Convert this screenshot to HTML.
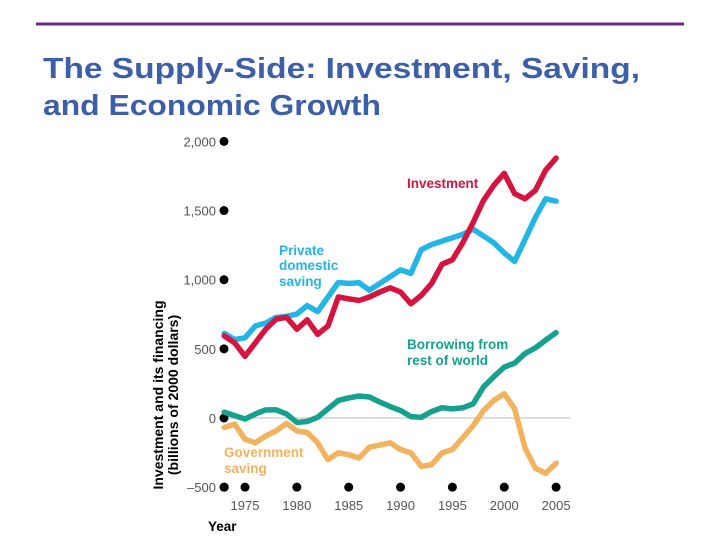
<!DOCTYPE html>
<html><head><meta charset="utf-8"><style>
body{margin:0;background:#fff;width:720px;height:540px;overflow:hidden;font-family:"Liberation Sans",sans-serif}
</style></head><body>
<svg width="720" height="540">
<line x1="36" y1="24" x2="684" y2="24" stroke="#6a2a8c" stroke-width="3"/>
<text x="43" y="78" font-size="29" font-weight="bold" fill="#3d5fa8" textLength="597" lengthAdjust="spacingAndGlyphs">The Supply-Side: Investment, Saving,</text>
<text x="43" y="115" font-size="29" font-weight="bold" fill="#3d5fa8" textLength="338" lengthAdjust="spacingAndGlyphs">and Economic Growth</text>
<g id="plot"></g>
</svg>
<script>
const years=[1973,1974,1975,1976,1977,1978,1979,1980,1981,1982,1983,1984,1985,1986,1987,1988,1989,1990,1991,1992,1993,1994,1995,1996,1997,1998,1999,2000,2001,2002,2003,2004,2005];
const investment=[593,544,446,544,642,715,728,642,710,605,666,875,862,850,875,911,941,911,826,887,973,1112,1144,1267,1414,1573,1683,1769,1622,1585,1646,1793,1879];
const privateSaving=[612,568,580,666,686,728,735,752,813,769,875,980,973,978,924,973,1022,1071,1046,1218,1254,1279,1303,1328,1365,1316,1267,1193,1132,1291,1450,1585,1568];
const borrowing=[42,17,-7,29,59,59,29,-32,-25,5,66,127,145,159,152,115,83,54,10,5,47,74,66,74,103,225,299,368,397,466,507,564,617];
const government=[-69,-44,-154,-179,-130,-93,-39,-93,-105,-179,-301,-252,-265,-289,-211,-196,-179,-228,-252,-350,-338,-252,-228,-142,-56,54,127,176,66,-216,-363,-400,-326];
const yTicks=[2000,1500,1000,500,0,-500];
const yTickLabels=["2,000","1,500","1,000","500","0","\u2013500"];
const xTicks=[1975,1980,1985,1990,1995,2000,2005];
const xDotYears=[1973,1975,1980,1985,1990,1995,2000,2005];
const NS="http://www.w3.org/2000/svg";
const g=document.getElementById('plot');
const x=v=>245+(v-1975)*10.37;
const y=v=>418-v*0.1383;
function el(t,a){const e=document.createElementNS(NS,t);for(const k in a)e.setAttribute(k,a[k]);g.appendChild(e);return e;}
let z=el('line',{x1:224,y1:y(0),x2:570,y2:y(0),stroke:'#bbb','stroke-width':1});


yTicks.forEach((v,i)=>{
 let c=el('circle',{cx:224,cy:y(v),r:4.5,fill:'#000'});
 
 
 let t=el('text',{x:216,y:y(v)+5,'text-anchor':'end','font-size':13,fill:'#555'});
 t.textContent=yTickLabels[i];
 
 
});
xDotYears.forEach(v=>{
 let c=el('circle',{cx:x(v),cy:y(-500),r:4.5,fill:'#000'});
 
 
});
xTicks.forEach(v=>{
 let t=el('text',{x:x(v),y:510,'text-anchor':'middle','font-size':13,fill:'#555'});
 t.textContent=v;
 
 
});
function series(d,col,name){
 let p=el('polyline',{points:d.map((v,i)=>x(years[i])+','+y(v)).join(' '),fill:'none',stroke:col,'stroke-width':5.5,'stroke-linejoin':'round','stroke-linecap':'round'});
 
 
}
series(government,'#f2b25e','government-saving-line');
series(borrowing,'#16a08e','borrowing-line');
series(privateSaving,'#22b5e6','private-saving-line');
series(investment,'#d51440','investment-line');
function lbl(txt,xx,yy,col,name){
 let t=el('text',{x:xx,y:yy,'font-size':13.5,'font-weight':'bold',fill:col});
 t.textContent=txt;
 
 
}
lbl('Investment',407,188,'#d51440','investment-label');
lbl('Private',279,255,'#22b5e6','private-saving-label-1');
lbl('domestic',279,270,'#22b5e6','private-saving-label-2');
lbl('saving',279,286,'#22b5e6','private-saving-label-3');
lbl('Borrowing from',407,349,'#16a08e','borrowing-label-1');
lbl('rest of world',407,365,'#16a08e','borrowing-label-2');
lbl('Government',224,457,'#f2b25e','government-label-1');
lbl('saving',224,473,'#f2b25e','government-label-2');
lbl('Year',208,531,'#000','x-axis-title');
let at=el('text',{transform:'translate(163,395) rotate(-90)','text-anchor':'middle','font-size':14,'font-weight':'bold',fill:'#000'});
at.textContent='Investment and its financing';


let at2=el('text',{transform:'translate(178,395) rotate(-90)','text-anchor':'middle','font-size':14,'font-weight':'bold',fill:'#000'});
at2.textContent='(billions of 2000 dollars)';


</script>
</body></html>
